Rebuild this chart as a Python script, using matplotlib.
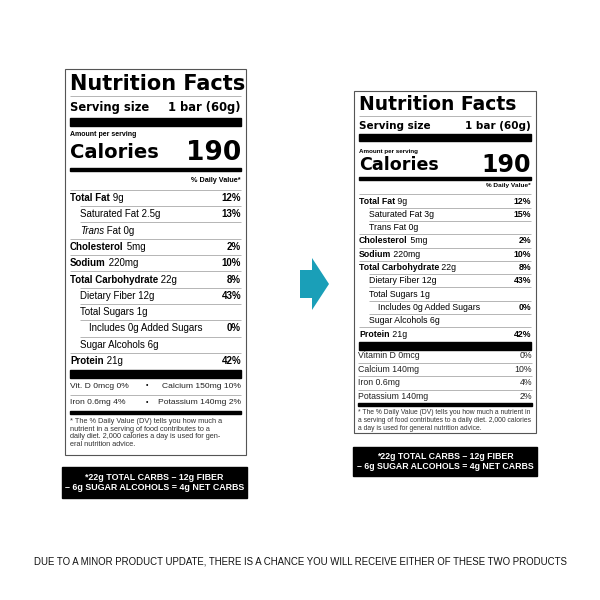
import matplotlib
matplotlib.use("Agg")
import matplotlib.pyplot as plt
from matplotlib.patches import Rectangle, Polygon

# ---- data ----
left_rows = [("Total Fat", "9g", "12%", 0, True), ("Saturated Fat", "2.5g", "13%", 1, False),
             ("Trans Fat", "0g", "", 1, False), ("Cholesterol", "5mg", "2%", 0, True),
             ("Sodium", "220mg", "10%", 0, True), ("Total Carbohydrate", "22g", "8%", 0, True),
             ("Dietary Fiber", "12g", "43%", 1, False), ("Total Sugars", "1g", "", 1, False),
             ("Includes 0g Added Sugars", "", "0%", 2, False), ("Sugar Alcohols", "6g", "", 1, False),
             ("Protein", "21g", "42%", 0, True)]
right_rows = [("Total Fat", "9g", "12%", 0, True), ("Saturated Fat", "3g", "15%", 1, False),
              ("Trans Fat", "0g", "", 1, False), ("Cholesterol", "5mg", "2%", 0, True),
              ("Sodium", "220mg", "10%", 0, True), ("Total Carbohydrate", "22g", "8%", 0, True),
              ("Dietary Fiber", "12g", "43%", 1, False), ("Total Sugars", "1g", "", 1, False),
              ("Includes 0g Added Sugars", "", "0%", 2, False), ("Sugar Alcohols", "6g", "", 1, False),
              ("Protein", "21g", "42%", 0, True)]
left_vitamins = [("Vit. D 0mcg 0%", "Calcium 150mg 10%"), ("Iron 0.6mg 4%", "Potassium 140mg 2%")]
right_vitamins = [("Vitamin D 0mcg", "0%"), ("Calcium 140mg", "10%"), ("Iron 0.6mg", "4%"), ("Potassium 140mg", "2%")]
calories = "190"
serving = "1 bar (60g)"
left_foot = ("* The % Daily Value (DV) tells you how much a\nnutrient in a serving of food contributes to a\n"
             "daily diet. 2,000 calories a day is used for gen-\neral nutrition advice.")
right_foot = ("* The % Daily Value (DV) tells you how much a nutrient in\na serving of food contributes to a daily diet. 2,000 calories\n"
              "a day is used for general nutrition advice.")
net_carbs = "*22g TOTAL CARBS – 12g FIBER\n– 6g SUGAR ALCOHOLS = 4g NET CARBS"
bottom_note = "DUE TO A MINOR PRODUCT UPDATE, THERE IS A CHANCE YOU WILL RECEIVE EITHER OF THESE TWO PRODUCTS"

plt.rcParams['font.family'] = ['Liberation Sans', 'DejaVu Sans']
HEAVY = ['DejaVu Sans']
fig = plt.figure(figsize=(6, 6), dpi=100)
ax = fig.add_axes([0, 0, 1, 1])
ax.set_xlim(0, 600); ax.set_ylim(600, 0); ax.axis('off')

def hline(x0, x1, y, lw, c='black'):
    ax.plot([x0, x1], [y, y], color=c, lw=lw, solid_capstyle='butt')

def label(x0, x1, top, bot, ys, rows, rowh, s):
    ax.add_patch(Rectangle((x0, top), x1 - x0, bot - top, fill=False, ec='#555555', lw=0.8))
    l, r = x0 + 5, x1 - 5
    ax.text(l, ys['title'], "Nutrition Facts", fontsize=15*s, fontweight='bold', va='center', ha='left', family=HEAVY)
    hline(l, r, ys['title'] + 12, 0.5, '#999')
    ax.text(l, ys['serv'], "Serving size", fontsize=8.3*s, fontweight='bold', va='center', family=HEAVY)
    ax.text(r, ys['serv'], serving, fontsize=8.3*s, fontweight='bold', va='center', ha='right', family=HEAVY)
    ax.add_patch(Rectangle((l, ys['bar1']), r - l, ys['bar1h'], color='black'))
    ax.text(l, ys['amt'], "Amount per serving", fontsize=5*s, fontweight='bold', va='center')
    ax.text(l, ys['cal'], "Calories", fontsize=14*s, fontweight='bold', va='center', family=HEAVY)
    ax.text(r, ys['cal'], calories, fontsize=19*s, fontweight='bold', va='center', ha='right', family=HEAVY)
    ax.add_patch(Rectangle((l, ys['bar2']), r - l, 3, color='black'))
    ax.text(r, ys['dv'], "% Daily Value*", fontsize=5.2*s, fontweight='bold', va='center', ha='right')
    y = ys['rows']
    hline(l, r, y - rowh / 2, 0.5, '#999')
    for i, (n, a, d, ind, b) in enumerate(rows):
        xx = l + [0, 10, 19][ind]
        if b:
            t = ax.text(xx, y, n, fontsize=7*s, fontweight='bold', va='center')
            ax.annotate(" " + a, xycoords=t, xy=(1, 0.5), va='center', fontsize=7*s)
        else:
            if n == "Trans Fat" and s == 1:
                t = ax.text(xx, y, "Trans", fontsize=7*s, style='italic', va='center')
                ax.annotate(" Fat " + a, xycoords=t, xy=(1, 0.5), va='center', fontsize=7*s)
            else:
                ax.text(xx, y, (n + " " + a).strip(), fontsize=7*s, va='center')
        if d:
            ax.text(r, y, d, fontsize=7*s, fontweight='bold', va='center', ha='right')
        if i < len(rows) - 1:
            hx = l if rows[i + 1][3] == 0 else l + 10
            hline(hx, r, y + rowh / 2, 0.5, '#999')
        y += rowh
    ax.add_patch(Rectangle((l, ys['bar3']), r - l, 7.5, color='black'))

# left label
rh_l = 16.3
label(65, 246, 69, 455, dict(title=84, serv=107, bar1=118, bar1h=8, amt=135, cal=153, bar2=168, dv=181, rows=198, bar3=370),
      left_rows, rh_l, 1.0)
l, r = 70, 241
for i, (a, b) in enumerate(left_vitamins):
    y = 386 + i * 16.5
    ax.text(l, y, a, fontsize=6.1, va='center', color='#222')
    ax.text(r, y, b, fontsize=6.1, va='center', ha='right', color='#222')
    ax.text(147, y, "•", fontsize=5, va='center', ha='center')
    if i == 0:
        hline(l, r, y + 8.5, 0.5, '#999')
ax.add_patch(Rectangle((l, 410.5), r - l, 3, color='black'))
ax.text(l, 418, left_foot, fontsize=5.3, va='top', color='#333', linespacing=1.15)

# right label
rh_r = 13.3
label(354, 536, 91, 433, dict(title=104, serv=126, bar1=134, bar1h=7, amt=152, cal=165, bar2=177, dv=186, rows=201, bar3=342),
      right_rows, rh_r, 0.9)
l, r = 358, 532
for i, (a, b) in enumerate(right_vitamins):
    y = 356 + i * 13.4
    ax.text(l, y, a, fontsize=6.3, va='center', color='#222')
    ax.text(r, y, b, fontsize=6.3, va='center', ha='right', color='#222')
    if i < 3:
        hline(l, r, y + 6.7, 0.5, '#999')
ax.add_patch(Rectangle((l, 402.5), r - l, 3, color='black'))
ax.text(l, 409, right_foot, fontsize=4.9, va='top', color='#333', linespacing=1.15)

# net carb boxes
for (x0, x1, y0, y1, fs) in [(62, 247, 467, 498, 6.4), (353, 537, 447, 476, 6.3)]:
    ax.add_patch(Rectangle((x0, y0), x1 - x0, y1 - y0, color='black'))
    ax.text((x0 + x1) / 2, (y0 + y1) / 2, net_carbs, color='white', fontsize=fs, fontweight='bold',
            ha='center', va='center', linespacing=1.2)

# arrow
ax.add_patch(Polygon([(300, 270), (312, 270), (312, 258), (329, 284), (312, 310), (312, 298), (300, 298)],
                     closed=True, color='#1a9fb8', ec='none'))

ax.text(300, 561, bottom_note, fontsize=6.9, ha='center', va='center', color='#111')
fig.savefig("out.png", dpi=100)
